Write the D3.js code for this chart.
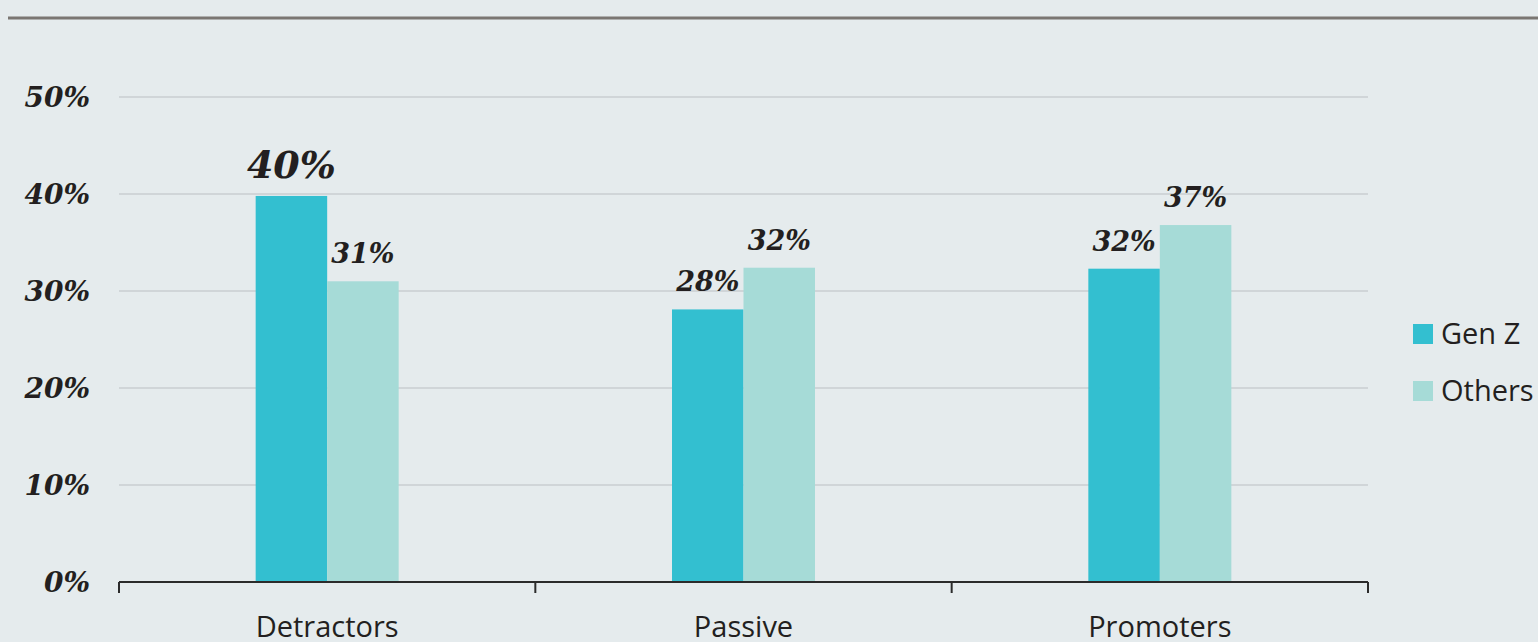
<!DOCTYPE html>
<html>
<head>
<meta charset="utf-8">
<script src="https://cdn.jsdelivr.net/npm/d3@7"></script>
<style>
  body { margin: 0; background: #e5ebed; }
  svg { display: block; }
</style>
</head>
<body>
<div id="chart"></div>
<script>
// chart data
var categories = ["Detractors", "Passive", "Promoters"];
var seriesNames = ["Gen Z", "Others"];
var genZ = [39.8, 28.1, 32.3];
var others = [31.0, 32.4, 36.8];
var genZLabels = ["40%", "28%", "32%"];
var othersLabels = ["31%", "32%", "37%"];
var yTicks = [0, 10, 20, 30, 40, 50];

var width = 1538, height = 642;
var Colors = ["#33bfd0", "#a6dbd7"];
var serif = "'DejaVu Serif', 'Liberation Serif', serif";
var sans = "'Open Sans', 'Noto Sans', sans-serif";

var svg = d3.select("#chart")
    .append("svg")
    .attr("width", width)
    .attr("height", height);

svg.append("rect")
    .attr("width", width)
    .attr("height", height)
    .attr("fill", "#e5ebed");

// top rule
svg.append("line")
    .attr("x1", 8).attr("x2", width)
    .attr("y1", 18).attr("y2", 18)
    .attr("stroke", "#7a7672")
    .attr("stroke-width", 3);

var xScale = d3.scaleBand()
    .domain(categories)
    .range([119, 1368]);

var xInner = d3.scaleBand()
    .domain(seriesNames)
    .range([-71.5, 71.5]);

var yScale = d3.scaleLinear()
    .domain([0, 50])
    .range([582, 97]);

// gridlines
svg.append("g")
    .attr("class", "grid")
    .selectAll("line")
    .data(yTicks.filter(d => d > 0)).enter()
    .append("line")
    .attr("x1", 119).attr("x2", 1368)
    .attr("y1", d => yScale(d)).attr("y2", d => yScale(d))
    .attr("stroke", "#d0d5d8")
    .attr("stroke-width", 2);

// y tick labels
svg.append("g")
    .selectAll("text")
    .data(yTicks).enter()
    .append("text")
    .attr("x", 90)
    .attr("y", d => yScale(d))
    .attr("dy", "0.35em")
    .attr("text-anchor", "end")
    .style("font-family", serif)
    .style("font-weight", "bold")
    .style("font-style", "italic")
    .style("font-size", "28px")
    .attr("fill", "#231f20")
    .text(d => d + "%");

// bars
var rows = categories.map(function (c, i) {
    return {
        cat: c,
        values: [
            { name: seriesNames[0], value: genZ[i], label: genZLabels[i] },
            { name: seriesNames[1], value: others[i], label: othersLabels[i] }
        ]
    };
});

var groups = svg.selectAll(".bar-group")
    .data(rows).enter()
    .append("g")
    .attr("class", "bar-group")
    .attr("transform", d => "translate(" + (xScale(d.cat) + xScale.bandwidth() / 2) + ",0)");

groups.selectAll("rect")
    .data(d => d.values).enter()
    .append("rect")
    .attr("x", d => xInner(d.name))
    .attr("y", d => yScale(d.value))
    .attr("width", xInner.bandwidth())
    .attr("height", d => yScale(0) - yScale(d.value))
    .style("fill", (d, i) => Colors[i]);

var maxVal = d3.max(genZ.concat(others));

groups.selectAll(".val")
    .data(d => d.values).enter()
    .append("text")
    .attr("class", "val")
    .attr("x", d => xInner(d.name) + xInner.bandwidth() / 2)
    .attr("y", d => yScale(d.value) - 18)
    .attr("text-anchor", "middle")
    .style("font-family", serif)
    .style("font-weight", "bold")
    .style("font-style", "italic")
    .style("font-size", d => d.value === maxVal ? "38px" : "27px")
    .attr("fill", "#231f20")
    .text(d => d.label);

// x axis
var xAxis = d3.axisBottom(xScale).tickSize(0).tickFormat(d => d);
var axisG = svg.append("g")
    .attr("transform", "translate(0,582)")
    .call(xAxis);
axisG.select(".domain")
    .attr("stroke", "#2b2b2b")
    .attr("stroke-width", 2)
    .attr("d", "M119,0H1368");
axisG.selectAll(".tick text")
    .attr("y", 55)
    .attr("dy", 0)
    .style("font-family", sans)
    .style("font-size", "29px")
    .attr("fill", "#231f20");

// boundary ticks
var bounds = categories.map(c => xScale(c)).concat([xScale.range()[1]]);
svg.append("g")
    .selectAll("line")
    .data(bounds).enter()
    .append("line")
    .attr("x1", d => d).attr("x2", d => d)
    .attr("y1", 582).attr("y2", 593)
    .attr("stroke", "#2b2b2b")
    .attr("stroke-width", 2);

// legend
var legend = svg.selectAll(".legend")
    .data(seriesNames).enter()
    .append("g")
    .attr("class", "legend");

legend.append("rect")
    .attr("x", 1413)
    .attr("y", (d, i) => 324 + i * 57)
    .attr("width", 20)
    .attr("height", 20)
    .style("fill", (d, i) => Colors[i]);

legend.append("text")
    .attr("x", 1441)
    .attr("y", (d, i) => 334 + i * 57)
    .attr("dy", "0.35em")
    .style("font-family", sans)
    .style("font-size", "29px")
    .attr("fill", "#231f20")
    .text(d => d);
</script>
</body>
</html>
